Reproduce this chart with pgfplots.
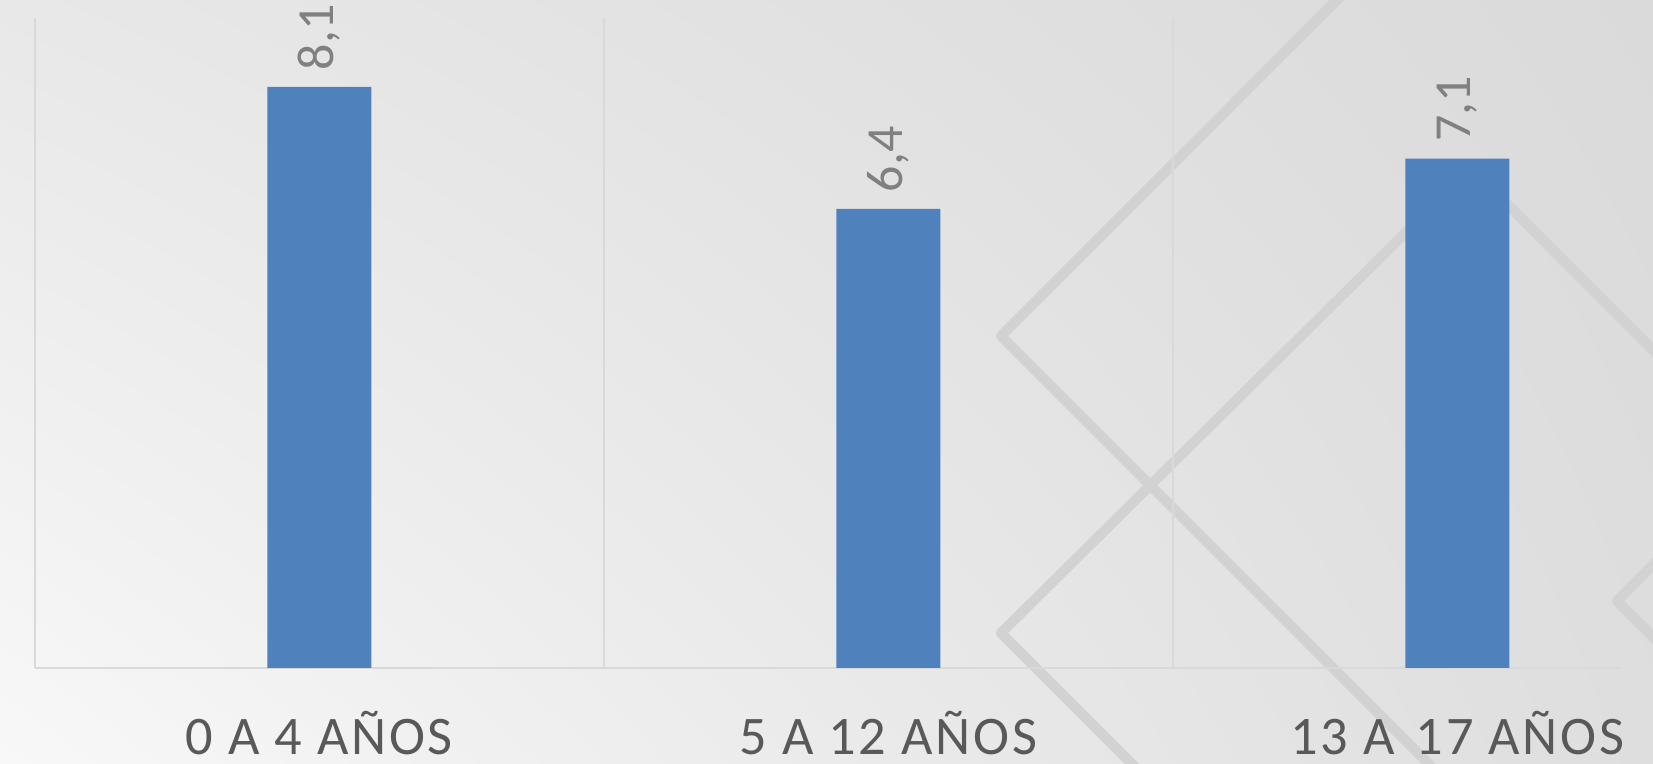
\documentclass[border=0pt]{standalone}
\usepackage{pgfplots}
\pgfplotsset{compat=1.18}
\usetikzlibrary{shadings}
\usepackage{fontspec}
\setmainfont{Carlito}
\newfontfamily\lblfont[LetterSpace=5]{Carlito}
\definecolor{barblue}{HTML}{4F81BD}
\definecolor{ticktext}{HTML}{595959}
\definecolor{valtext}{HTML}{808080}
\definecolor{gridc}{HTML}{D9D9D9}
\definecolor{decor}{HTML}{D2D2D2}
\definecolor{bgUL}{HTML}{E8E8E8}
\definecolor{bgLL}{HTML}{F8F8F8}
\definecolor{bgUR}{HTML}{DADADA}
\definecolor{bgLR}{HTML}{DEDEDE}
\pgfplotstableread{
x y label
0 8.1 8,1
1 6.4 6,4
2 7.1 7,1
}\datatab
\begin{document}
\begin{tikzpicture}
\useasboundingbox (0,0) rectangle (495.9pt,229.2pt);
\shade[upper left=bgUL, lower left=bgLL, upper right=bgUR, lower right=bgLR] (0,0) rectangle (495.9pt,229.2pt);
\begin{scope}
\clip (0,0) rectangle (495.9pt,229.2pt);
\begin{scope}[x=0.3pt, y=-0.3pt, yshift=229.2pt, line width=3pt, line cap=butt, line join=round]
% diamond 1
\draw[decor] (1380,-43) -- (1001,336) -- (1440,775);
% diamond 2
\draw[decor] (1142,774) -- (1001,633) -- (1471,168) -- (1720,417);
% diamond 3
\draw[decor] (1720,498) -- (1617,601) -- (1720,704);
\end{scope}
\end{scope}
\begin{axis}[
  at={(10.44pt,28.8pt)}, anchor=south west,
  scale only axis,
  width=475.56pt, height=195pt,
  xmin=-0.5, xmax=2.286,
  ymin=0, ymax=9.06,
  axis y line=none,
  axis x line*=bottom,
  x axis line style={-, draw=gridc, line width=0.6pt},
  xtick={0,1,2},
  xticklabels={0 A 4 AÑOS, 5 A 12 AÑOS, 13 A\hspace{0.12em} 17 AÑOS},
  minor xtick={-0.5,0.5,1.5},
  xminorgrids=true,
  minor grid style={draw=gridc, line width=0.5pt},
  major tick length=0pt, minor tick length=0pt,
  xticklabel style={font=\lblfont\fontsize{16.3}{16.3}\selectfont, text=ticktext, anchor=base, yshift=-26.1pt},
  clip=false,
]
\addplot[ybar, bar width=31.2pt, fill=barblue, draw=none,
  nodes near coords, point meta=explicit symbolic,
  nodes near coords style={rotate=90, anchor=west, inner xsep=4.8pt, inner ysep=0pt,
    font=\fontsize{15.6}{15.6}\selectfont, text=valtext}]
  table[x=x, y=y, meta=label] {\datatab};
\end{axis}
\end{tikzpicture}
\end{document}
